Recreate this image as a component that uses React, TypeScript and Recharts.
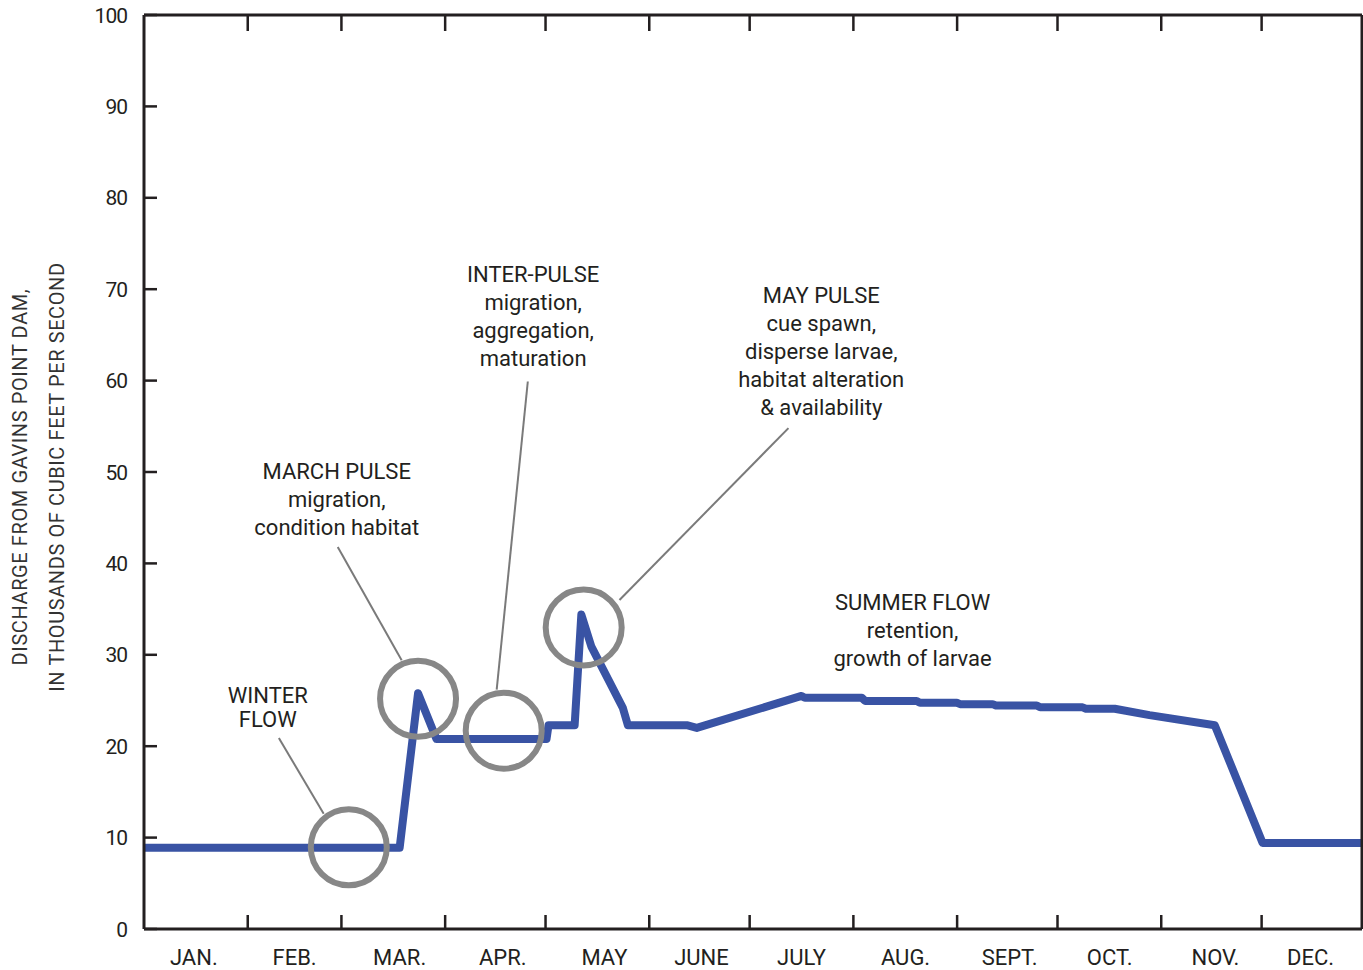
import React from "react";
import { LineChart, Line, XAxis, YAxis, ReferenceDot, ReferenceLine } from "recharts";

// day of year (0 = Jan 1) and discharge, thousands of cfs
const days = [0, 76.4, 81.9, 87.4, 120.3, 120.9, 128.7, 130.7, 133.7, 143.1, 144.6, 162.2, 165.2, 196.5, 197.5, 214.5, 215.5, 230.9, 231.9, 242.9, 243.9, 253.6, 254.6, 266.8, 267.8, 280.5, 281.5, 290.1, 300.5, 320, 334.3, 364];
const flow = [8.9, 8.9, 25.8, 20.8, 20.8, 22.3, 22.3, 34.4, 30.9, 24.2, 22.3, 22.3, 22.0, 25.5, 25.3, 25.3, 24.95, 24.95, 24.75, 24.75, 24.6, 24.6, 24.45, 24.45, 24.25, 24.25, 24.1, 24.1, 23.4, 22.3, 9.4, 9.4];

const monthStarts = [31, 59, 90, 120, 151, 181, 212, 243, 273, 304, 334];
const monthLabelDays = [14.9, 45, 76.4, 107.2, 137.6, 166.6, 196.5, 227.6, 258.7, 288.6, 320.2, 348.6];
const monthNames = ["JAN.", "FEB.", "MAR.", "APR.", "MAY", "JUNE", "JULY", "AUG.", "SEPT.", "OCT.", "NOV.", "DEC."];
const flowTicks = [0, 10, 20, 30, 40, 50, 60, 70, 80, 90, 100];

// circled events
const circleDays = [61.2, 81.9, 107.5, 131.4];
const circleFlows = [8.94, 25.2, 21.7, 33.0];

// leader lines, from note to circle
const leaderFrom = [
  { x: 40.3, y: 20.9 },
  { x: 57.9, y: 41.8 },
  { x: 114.7, y: 59.9 },
  { x: 192.6, y: 54.8 }
];
const leaderTo = [
  { x: 53.7, y: 12.6 },
  { x: 77.0, y: 29.4 },
  { x: 105.4, y: 26.2 },
  { x: 142.1, y: 36.0 }
];

const noteDays = [37.0, 57.6, 116.3, 202.4, 229.7];
const noteFlows = [24.75, 49.26, 70.8, 68.5, 34.9];
const noteLines = [
  ["WINTER", "FLOW"],
  ["MARCH PULSE", "migration,", "condition habitat"],
  ["INTER-PULSE", "migration,", "aggregation,", "maturation"],
  ["MAY PULSE", "cue spawn,", "disperse larvae,", "habitat alteration", "& availability"],
  ["SUMMER FLOW", "retention,", "growth of larvae"]
];
const noteGaps = [24.5, 28, 28, 28, 28];

const ink = "#231f20";
const lineBlue = "#3953a4";
const circleGray = "#878787";
const leaderGray = "#7a7a7a";
const textFont = "Roboto, 'Liberation Sans', Arial, sans-serif";

const data = days.map((day, i) => ({ day, flow: flow[i] }));
const bottomTicks = [...monthStarts, ...monthLabelDays].sort((a, b) => a - b);

function LeftTick({ x, y, payload }: any) {
  return (
    <g>
      <line x1={x} x2={x + 13} y1={y} y2={y} stroke={ink} strokeWidth={2.5} />
      <text x={x - 17} y={y} dy="0.36em" textAnchor="end" fontFamily={textFont} fontSize={21} letterSpacing={-1} fill={ink}>
        {payload.value}
      </text>
    </g>
  );
}

function RightTick({ x, y }: any) {
  return <line x1={x} x2={x - 13} y1={y} y2={y} stroke={ink} strokeWidth={2.5} />;
}

function TopTick({ x, y }: any) {
  return <line x1={x} x2={x} y1={y} y2={y + 16} stroke={ink} strokeWidth={2.5} />;
}

function BottomTick({ x, y, payload }: any) {
  if (monthStarts.includes(payload.value)) {
    return <line x1={x} x2={x} y1={y} y2={y - 14} stroke={ink} strokeWidth={2.5} />;
  }
  const i = monthLabelDays.indexOf(payload.value);
  return (
    <text x={x} y={y + 28} dy="0.36em" textAnchor="middle" fontFamily={textFont} fontSize={22} fill={ink}>
      {monthNames[i]}
    </text>
  );
}

function AxisTitle({ viewBox }: any) {
  const cy = viewBox.y + viewBox.height / 2 + 5;
  const common = { textAnchor: "middle" as const, fontFamily: textFont, fontSize: 20, letterSpacing: 0.6, fill: "#333" };
  return (
    <g>
      <text x={20} y={cy} dy="0.36em" transform={`rotate(-90 20 ${cy})`} {...common}>
        DISCHARGE FROM GAVINS POINT DAM,
      </text>
      <text x={57} y={cy} dy="0.36em" transform={`rotate(-90 57 ${cy})`} {...common}>
        IN THOUSANDS OF CUBIC FEET PER SECOND
      </text>
    </g>
  );
}

function Note({ cx, cy, lines, gap }: any) {
  return (
    <text x={cx} y={cy} textAnchor="middle" fontFamily={textFont} fontSize={22} fill={ink}>
      {lines.map((t: string, i: number) => (
        <tspan key={i} x={cx} y={cy + i * gap}>
          {t}
        </tspan>
      ))}
    </text>
  );
}

export default function App() {
  return (
    <div style={{ position: "absolute", left: 0, top: 0, background: "#fff" }}>
      <LineChart width={1363} height={970} data={data} margin={{ top: 14, right: 0, bottom: 0, left: 0 }}>
        <XAxis
          dataKey="day"
          type="number"
          domain={[0, 364]}
          ticks={bottomTicks}
          interval={0}
          tick={<BottomTick />}
          tickLine={false}
          tickSize={0}
          tickMargin={0}
          height={41}
          axisLine={{ stroke: ink, strokeWidth: 3 }}
        />
        <XAxis
          xAxisId="top"
          orientation="top"
          dataKey="day"
          type="number"
          domain={[0, 364]}
          ticks={monthStarts}
          interval={0}
          tick={<TopTick />}
          tickLine={false}
          tickSize={0}
          tickMargin={0}
          height={1}
          axisLine={{ stroke: ink, strokeWidth: 3 }}
        />
        <YAxis
          type="number"
          domain={[0, 100]}
          ticks={flowTicks}
          interval={0}
          tick={<LeftTick />}
          tickLine={false}
          tickSize={0}
          tickMargin={0}
          width={144}
          axisLine={{ stroke: ink, strokeWidth: 3 }}
          label={<AxisTitle />}
        />
        <YAxis
          yAxisId="right"
          orientation="right"
          type="number"
          domain={[0, 100]}
          ticks={flowTicks}
          interval={0}
          tick={<RightTick />}
          tickLine={false}
          tickSize={0}
          tickMargin={0}
          width={1}
          axisLine={{ stroke: ink, strokeWidth: 3 }}
        />
        <Line
          type="linear"
          dataKey="flow"
          stroke={lineBlue}
          strokeWidth={8}
          strokeLinejoin="round"
          dot={false}
          activeDot={false}
          isAnimationActive={false}
        />
        {leaderFrom.map((p, i) => (
          <ReferenceLine key={`l${i}`} segment={[p, leaderTo[i]]} stroke={leaderGray} strokeWidth={2} />
        ))}
        {circleDays.map((d, i) => (
          <ReferenceDot key={`c${i}`} x={d} y={circleFlows[i]} r={38} fill="none" stroke={circleGray} strokeWidth={6} />
        ))}
        {noteDays.map((d, i) => (
          <ReferenceDot
            key={`n${i}`}
            x={d}
            y={noteFlows[i]}
            r={0}
            shape={(p: any) => <Note cx={p.cx} cy={p.cy} lines={noteLines[i]} gap={noteGaps[i]} />}
          />
        ))}
      </LineChart>
    </div>
  );
}
